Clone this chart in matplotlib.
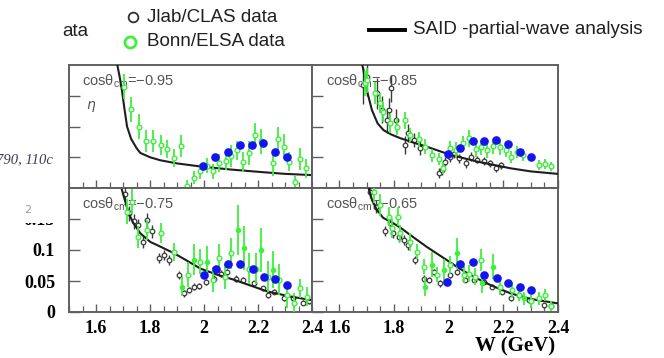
"""Eta photoproduction cross sections at backward angles: CLAS, ELSA, SAID."""

import matplotlib

matplotlib.use("Agg")
import matplotlib.pyplot as plt
from matplotlib.patches import Rectangle
from matplotlib.ticker import MultipleLocator

GREEN = "#3cf03c"
BLUE = "#1414f0"
CLAS_COLOR = "#3a3a3a"
FRAME = "#606060"
LABEL_GRAY = "#555555"

# --- cos(theta_cm) = -0.95 -------------------------------------------------
said_w_95 = [1.679, 1.688, 1.696, 1.705, 1.715, 1.73, 1.75, 1.764, 1.80, 1.839,
             1.90, 1.987, 2.10, 2.21, 2.30, 2.40]
said_v_95 = [0.200, 0.180, 0.159, 0.130, 0.100, 0.080, 0.065, 0.057, 0.050, 0.045,
             0.040, 0.035, 0.030, 0.026, 0.023, 0.021]
elsa_w_95 = [1.702, 1.73, 1.758, 1.785, 1.811, 1.839, 1.863, 1.888, 1.913, 1.938,
             1.962, 1.985, 2.01, 2.035, 2.056, 2.08, 2.10, 2.124, 2.146, 2.167,
             2.19, 2.21, 2.254, 2.275, 2.295, 2.316, 2.338, 2.357, 2.378]
elsa_v_95 = [0.165, 0.128, 0.100, 0.076, 0.076, 0.070, 0.063, 0.049, 0.068, 0.003,
             0.017, 0.027, 0.036, 0.027, 0.041, 0.044, 0.052, 0.061, 0.042, 0.057,
             0.086, 0.076, 0.040, 0.080, 0.067, 0.043, 0.010, 0.047, 0.032]
elsa_e_95 = [0.020, 0.020, 0.020, 0.018, 0.018, 0.016, 0.015, 0.015, 0.018, 0.010,
             0.010, 0.012, 0.012, 0.012, 0.015, 0.015, 0.018, 0.016, 0.016, 0.020,
             0.020, 0.020, 0.020, 0.020, 0.020, 0.016, 0.010, 0.018, 0.015]
clas_w_95 = []
clas_v_95 = []
clas_e_95 = []
elsa_fill_w_95 = []
elsa_fill_v_95 = []
elsa_fill_e_95 = []
blue_w_95 = [1.997, 2.04, 2.09, 2.134, 2.177, 2.22, 2.264, 2.307]
blue_v_95 = [0.036, 0.051, 0.059, 0.070, 0.070, 0.073, 0.059, 0.050]

# --- cos(theta_cm) = -0.85 -------------------------------------------------
said_w_85 = [1.684, 1.688, 1.70, 1.719, 1.74, 1.762, 1.79, 1.823, 1.87, 1.921,
             2.006, 2.104, 2.227, 2.30, 2.398]
said_v_85 = [0.200, 0.192, 0.160, 0.127, 0.105, 0.094, 0.087, 0.081, 0.074, 0.067,
             0.054, 0.043, 0.032, 0.027, 0.023]
elsa_w_85 = [1.695, 1.70, 1.731, 1.75, 1.759, 1.784, 1.81, 1.839, 1.86, 1.89,
             1.915, 1.939, 1.964, 1.98, 2.006, 2.028, 2.053, 2.074, 2.10, 2.12,
             2.141, 2.163, 2.187, 2.208, 2.229, 2.249, 2.273, 2.33, 2.353, 2.373]
elsa_v_85 = [0.170, 0.175, 0.154, 0.138, 0.124, 0.105, 0.100, 0.110, 0.086, 0.079,
             0.067, 0.053, 0.047, 0.032, 0.065, 0.062, 0.073, 0.081, 0.063, 0.066,
             0.061, 0.068, 0.066, 0.062, 0.050, 0.059, 0.054, 0.037, 0.039, 0.035]
elsa_e_85 = [0.020, 0.020, 0.018, 0.016, 0.016, 0.015, 0.014, 0.014, 0.012, 0.012,
             0.012, 0.010, 0.010, 0.010, 0.012, 0.012, 0.012, 0.014, 0.012, 0.012,
             0.012, 0.012, 0.012, 0.012, 0.010, 0.010, 0.010, 0.008, 0.008, 0.008]
clas_w_85 = [1.686, 1.70, 1.737, 1.756, 1.774, 1.78, 1.789, 1.808, 1.841, 1.85,
             1.872, 1.896, 1.963, 1.976, 1.988, 2.004, 2.019, 2.037, 2.065, 2.083,
             2.104, 2.128, 2.153, 2.172, 2.19]
clas_v_85 = [0.167, 0.180, 0.154, 0.127, 0.110, 0.127, 0.162, 0.110, 0.070, 0.089,
             0.078, 0.065, 0.024, 0.029, 0.043, 0.051, 0.056, 0.048, 0.040, 0.051,
             0.046, 0.044, 0.040, 0.032, 0.037]
clas_e_85 = [0.030, 0.030, 0.025, 0.022, 0.020, 0.020, 0.022, 0.018, 0.015, 0.015,
             0.012, 0.012, 0.008, 0.008, 0.008, 0.008, 0.008, 0.007, 0.007, 0.007,
             0.006, 0.006, 0.006, 0.006, 0.006]
elsa_fill_w_85 = []
elsa_fill_v_85 = []
elsa_fill_e_85 = []
blue_w_85 = [1.997, 2.04, 2.088, 2.13, 2.174, 2.217, 2.26, 2.30]
blue_v_85 = [0.055, 0.065, 0.076, 0.076, 0.078, 0.072, 0.059, 0.051]

# --- cos(theta_cm) = -0.75 -------------------------------------------------
said_w_75 = [1.696, 1.721, 1.739, 1.764, 1.801, 1.826, 1.888, 1.94, 1.987, 2.05,
             2.111, 2.17, 2.236, 2.32, 2.40]
said_v_75 = [0.197, 0.159, 0.143, 0.127, 0.113, 0.108, 0.095, 0.082, 0.070, 0.060,
             0.052, 0.043, 0.033, 0.025, 0.019]
elsa_w_75 = [1.715, 1.733, 1.755, 1.789, 1.839, 1.888, 1.942, 1.987, 2.035, 2.056,
             2.077, 2.099, 2.167, 2.192, 2.236, 2.279, 2.306, 2.335, 2.357, 2.382]
elsa_v_75 = [0.162, 0.178, 0.121, 0.132, 0.127, 0.097, 0.060, 0.081, 0.052, 0.087,
             0.057, 0.095, 0.070, 0.070, 0.057, 0.052, 0.027, 0.015, 0.038, 0.025]
elsa_e_75 = [0.020, 0.020, 0.018, 0.016, 0.016, 0.015, 0.020, 0.020, 0.020, 0.022,
             0.020, 0.025, 0.025, 0.025, 0.025, 0.025, 0.020, 0.015, 0.015, 0.015]
clas_w_75 = [1.708, 1.721, 1.739, 1.754, 1.774, 1.789, 1.808, 1.832, 1.851, 1.869,
             1.907, 1.925, 1.944, 1.963, 1.981, 2.006, 2.037, 2.062, 2.087, 2.118,
             2.143, 2.186, 2.217, 2.236, 2.26, 2.297, 2.329, 2.366, 2.39]
clas_v_75 = [0.191, 0.159, 0.146, 0.140, 0.113, 0.148, 0.130, 0.087, 0.092, 0.084,
             0.060, 0.030, 0.035, 0.041, 0.042, 0.049, 0.054, 0.062, 0.065, 0.054,
             0.052, 0.046, 0.038, 0.027, 0.033, 0.022, 0.022, 0.015, 0.017]
clas_e_75 = [0.012, 0.012, 0.012, 0.010, 0.010, 0.012, 0.010, 0.008, 0.008, 0.008,
             0.006, 0.005, 0.005, 0.005, 0.005, 0.005, 0.005, 0.005, 0.005, 0.005,
             0.005, 0.004, 0.004, 0.004, 0.004, 0.004, 0.004, 0.004, 0.004]
elsa_fill_w_75 = [1.919, 1.963, 2.012, 2.126, 2.149, 2.21, 2.254]
elsa_fill_v_75 = [0.041, 0.084, 0.081, 0.132, 0.103, 0.100, 0.068]
elsa_fill_e_75 = [0.015, 0.025, 0.025, 0.040, 0.035, 0.035, 0.030]
blue_w_75 = [2.00, 2.043, 2.09, 2.134, 2.18, 2.223, 2.264, 2.306]
blue_v_75 = [0.060, 0.069, 0.077, 0.078, 0.070, 0.057, 0.054, 0.044]

# --- cos(theta_cm) = -0.65 -------------------------------------------------
said_w_65 = [1.707, 1.72, 1.737, 1.76, 1.798, 1.83, 1.86, 1.92, 1.982, 2.04,
             2.104, 2.16, 2.227, 2.30, 2.398]
said_v_65 = [0.200, 0.180, 0.165, 0.152, 0.143, 0.134, 0.124, 0.105, 0.087, 0.070,
             0.054, 0.042, 0.030, 0.021, 0.014]
elsa_w_65 = [1.725, 1.75, 1.78, 1.792, 1.813, 1.823, 1.86, 1.884, 1.908, 1.958,
             2.004, 2.055, 2.074, 2.098, 2.12, 2.187, 2.233, 2.257, 2.30, 2.33,
             2.353, 2.373]
elsa_v_65 = [0.194, 0.173, 0.154, 0.135, 0.154, 0.127, 0.113, 0.097, 0.073, 0.060,
             0.076, 0.060, 0.062, 0.057, 0.084, 0.041, 0.035, 0.027, 0.017, 0.022,
             0.027, 0.010]
elsa_e_65 = [0.018, 0.018, 0.016, 0.015, 0.015, 0.014, 0.014, 0.012, 0.012, 0.012,
             0.014, 0.014, 0.014, 0.014, 0.018, 0.014, 0.012, 0.010, 0.010, 0.010,
             0.010, 0.008]
clas_w_65 = [1.713, 1.735, 1.768, 1.786, 1.798, 1.817, 1.835, 1.853, 1.878, 1.908,
             1.927, 1.945, 1.97, 2.006, 2.031, 2.061, 2.092, 2.128, 2.159, 2.196,
             2.227, 2.257, 2.294, 2.349, 2.373]
clas_v_65 = [0.194, 0.170, 0.130, 0.143, 0.127, 0.121, 0.116, 0.108, 0.084, 0.054,
             0.052, 0.065, 0.046, 0.060, 0.065, 0.052, 0.052, 0.049, 0.041, 0.033,
             0.022, 0.027, 0.019, 0.011, 0.010]
clas_e_65 = [0.010, 0.010, 0.008, 0.008, 0.008, 0.008, 0.008, 0.008, 0.006, 0.006,
             0.005, 0.005, 0.005, 0.005, 0.005, 0.004, 0.004, 0.004, 0.004, 0.004,
             0.004, 0.004, 0.004, 0.004, 0.004]
elsa_fill_w_65 = [1.915, 1.939, 1.982, 2.031, 2.123, 2.163, 2.276]
elsa_fill_v_65 = [0.041, 0.076, 0.068, 0.095, 0.046, 0.073, 0.022]
elsa_fill_e_65 = [0.015, 0.020, 0.018, 0.025, 0.015, 0.020, 0.010]
blue_w_65 = [1.994, 2.043, 2.088, 2.131, 2.175, 2.218, 2.26, 2.30]
blue_v_65 = [0.048, 0.077, 0.081, 0.060, 0.055, 0.047, 0.040, 0.035]

panel_labels = ["\u22120.95", "\u22120.85", "\u22120.75", "\u22120.65"]
x_ticks = [1.6, 1.8, 2.0, 2.2, 2.4]
x_tick_labels = ["1.6", "1.8", "2", "2.2", "2.4"]
y_ticks = [0.0, 0.05, 0.1, 0.15]
y_tick_labels = ["0", "0.05", "0.1", "0.15"]


def fig_xy(px, py):
    return px / 664, 1 - py / 358


def draw_panel(ax, data, label, show_x, show_y):
    ax.plot(data["said_w"], data["said_v"], color="#1e1e1e", lw=1.5, zorder=4)
    if data["clas_w"]:
        ax.errorbar(data["clas_w"], data["clas_v"], yerr=data["clas_e"], fmt="o",
                    ms=3.3, mfc="white", mec=CLAS_COLOR, mew=0.9,
                    ecolor=CLAS_COLOR, elinewidth=1.0, capsize=0, zorder=3)
    ax.errorbar(data["elsa_w"], data["elsa_v"], yerr=data["elsa_e"], fmt="o",
                ms=3.4, mfc="white", mec=GREEN, mew=1.0,
                ecolor=GREEN, elinewidth=1.3, capsize=0, zorder=5)
    if data["fill_w"]:
        ax.errorbar(data["fill_w"], data["fill_v"], yerr=data["fill_e"], fmt="o",
                    ms=3.0, mfc=GREEN, mec=GREEN, ecolor=GREEN,
                    elinewidth=1.3, capsize=0, zorder=5)
    ax.plot(data["blue_w"], data["blue_v"], "o", ms=5.2, color=BLUE, zorder=6)

    ax.set_xlim(1.5, 2.4)
    ax.set_ylim(0, 0.2)
    ax.xaxis.set_major_locator(MultipleLocator(0.2))
    ax.xaxis.set_minor_locator(MultipleLocator(0.05))
    ax.set_yticks(y_ticks)
    ax.tick_params(axis="both", which="both", direction="in", color=FRAME,
                   top=False, right=False)
    ax.tick_params(axis="x", which="major", length=6, width=1.0)
    ax.tick_params(axis="x", which="minor", length=4, width=0.9)
    ax.tick_params(axis="y", which="major", length=8, width=1.0)
    if show_x:
        ax.set_xticks(x_ticks)
        ax.set_xticklabels(x_tick_labels, family="Liberation Serif",
                           weight="bold", size=13)
        ax.tick_params(axis="x", pad=6)
    else:
        ax.set_xticklabels([])
    if show_y:
        ax.set_yticklabels(y_tick_labels, family="Liberation Serif",
                           weight="bold", size=13)
        ax.tick_params(axis="y", pad=10)
    else:
        ax.set_yticklabels([])
    for spine in ax.spines.values():
        spine.set_color(FRAME)
        spine.set_linewidth(1.4)

    ax.text(0.055, 0.87, r"cos$\mathregular{\theta_{cm}}$=" + label,
            transform=ax.transAxes, color=LABEL_GRAY, size=10.5,
            family="Liberation Sans", va="center", ha="left")


def main():
    fig = plt.figure(figsize=(6.64, 3.58), dpi=100)
    fig.patch.set_facecolor("white")
    plt.rcParams["mathtext.fontset"] = "custom"
    plt.rcParams["mathtext.rm"] = "Liberation Sans"

    datasets = [
        dict(said_w=said_w_95, said_v=said_v_95, elsa_w=elsa_w_95, elsa_v=elsa_v_95,
             elsa_e=elsa_e_95, clas_w=clas_w_95, clas_v=clas_v_95, clas_e=clas_e_95,
             fill_w=elsa_fill_w_95, fill_v=elsa_fill_v_95, fill_e=elsa_fill_e_95,
             blue_w=blue_w_95, blue_v=blue_v_95),
        dict(said_w=said_w_85, said_v=said_v_85, elsa_w=elsa_w_85, elsa_v=elsa_v_85,
             elsa_e=elsa_e_85, clas_w=clas_w_85, clas_v=clas_v_85, clas_e=clas_e_85,
             fill_w=elsa_fill_w_85, fill_v=elsa_fill_v_85, fill_e=elsa_fill_e_85,
             blue_w=blue_w_85, blue_v=blue_v_85),
        dict(said_w=said_w_75, said_v=said_v_75, elsa_w=elsa_w_75, elsa_v=elsa_v_75,
             elsa_e=elsa_e_75, clas_w=clas_w_75, clas_v=clas_v_75, clas_e=clas_e_75,
             fill_w=elsa_fill_w_75, fill_v=elsa_fill_v_75, fill_e=elsa_fill_e_75,
             blue_w=blue_w_75, blue_v=blue_v_75),
        dict(said_w=said_w_65, said_v=said_v_65, elsa_w=elsa_w_65, elsa_v=elsa_v_65,
             elsa_e=elsa_e_65, clas_w=clas_w_65, clas_v=clas_v_65, clas_e=clas_e_65,
             fill_w=elsa_fill_w_65, fill_v=elsa_fill_v_65, fill_e=elsa_fill_e_65,
             blue_w=blue_w_65, blue_v=blue_v_65),
    ]

    # panel rectangles in pixels: left, top, right, bottom
    boxes = [(69, 65, 312, 188), (312, 65, 558, 188),
             (69, 188, 312, 312), (312, 188, 558, 312)]
    axes = []
    for i, (l, t, r, b) in enumerate(boxes):
        x0, y0 = fig_xy(l, b)
        ax = fig.add_axes([x0, y0, (r - l) / 664, (b - t) / 358])
        draw_panel(ax, datasets[i], panel_labels[i], show_x=i >= 2, show_y=i == 2)
        axes.append(ax)

    axes[0].text(0.07, 0.66, r"$\eta$", transform=axes[0].transAxes,
                 color=LABEL_GRAY, size=10, va="center")

    # cover the upper part of the "0.15" label, as in the pasted slide
    x0, y0 = fig_xy(18, 223)
    fig.patches.append(Rectangle((x0, y0), 45 / 664, 26 / 358, transform=fig.transFigure,
                                 facecolor="white", edgecolor="none", zorder=10))
    fig.text(*fig_xy(28, 210), "2", color="#9a9aa8", size=8, ha="center",
             va="center", zorder=11)
    fig.text(*fig_xy(-4, 160), "790, 110c", color="#3a3a55", size=10.5,
             family="Liberation Serif", style="italic", ha="left", va="center")
    fig.text(*fig_xy(62, 31), "ata", color="#202020", size=13.5,
             family="Liberation Sans", ha="left", va="center")

    # legend drawn in figure space
    leg = fig.add_axes([0, 0, 1, 1], facecolor="none")
    leg.set_xlim(0, 664)
    leg.set_ylim(358, 0)
    leg.axis("off")
    leg.plot([133], [17], "o", ms=7.0, mfc="white", mec="#303030", mew=1.3)
    leg.plot([130], [42], "o", ms=8, mfc="white", mec=GREEN, mew=2.0)
    leg.plot([369, 405], [30, 30], color="black", lw=2.8)
    leg.text(147, 17, "Jlab/CLAS data", size=13.5, family="Liberation Sans",
             color="#202020", va="center")
    leg.text(147, 41, "Bonn/ELSA data", size=13.5, family="Liberation Sans",
             color="#202020", va="center")
    leg.text(413, 30, "SAID -partial-wave analysis", size=13.5,
             family="Liberation Sans", color="#202020", va="center")

    fig.text(*fig_xy(515, 346), "W (GeV)", family="Liberation Serif",
             weight="bold", size=15, ha="center", va="center")

    fig.savefig("out.png", dpi=100, facecolor="white")
    plt.close(fig)


if __name__ == "__main__":
    main()
